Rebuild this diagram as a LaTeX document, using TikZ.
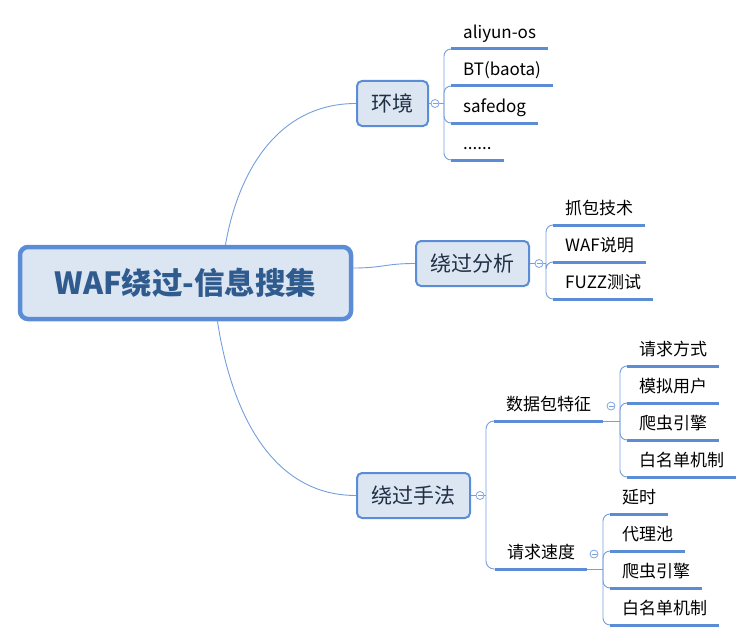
\documentclass[tikz,border=0pt]{standalone}
\usepackage{fontspec}
\setmainfont{Noto Sans CJK SC}
\usetikzlibrary{positioning,calc}

\definecolor{mapline}{HTML}{5B8DD6}
\definecolor{mapfill}{HTML}{DCE6F2}
\definecolor{roottext}{HTML}{2F5B8F}
\definecolor{boxtext}{HTML}{1F2F45}

\pgfdeclarelayer{bg}
\pgfsetlayers{bg,main}

\tikzset{
  root/.style={draw=mapline,fill=mapfill,line width=4.5pt,rounded corners=8pt,
    minimum width=331pt,minimum height=72pt,text=roottext,
    font=\bfseries\fontsize{30.5}{34}\selectfont},
  topic/.style={draw=mapline,fill=mapfill,line width=2pt,rounded corners=5pt,anchor=west,
    minimum height=45pt,inner xsep=14.5pt,text=boxtext,font=\fontsize{21}{24}\selectfont},
  leaf/.style={anchor=south west,inner xsep=12pt,inner ysep=6pt,text height=13pt,text depth=4pt,
    font=\fontsize{17}{20}\selectfont},
  uline/.style={draw=mapline,line width=3pt},
  link/.style={draw=mapline!85,line width=0.9pt},
  fold/.style={circle,draw=mapline!80,fill=white,line width=0.8pt,minimum size=8pt,inner sep=0pt,
    path picture={\draw[mapline!80,line width=0.7pt]
      ([xshift=-2.5pt]path picture bounding box.center) -- ([xshift=2.5pt]path picture bounding box.center);}},
}

\begin{document}
\begin{tikzpicture}[x=1pt,y=-1pt]
\useasboundingbox (0,0) rectangle (753,642);

% central topic and main branches
\node[root] (root) at (185.5,283) {WAF绕过-信息搜集};
\node[topic] (env) at (356,103.5) {环境};
\node[topic] (ana) at (415,263.5) {绕过分析};
\node[topic] (way) at (356,495.5) {绕过手法};

% collapse marks
\node[fold] (fenv) at (435,103.5) {};
\node[fold] (fana) at (539,263.5) {};
\node[fold] (fway) at (480,495.5) {};
\node[fold] (fpkt) at (611,406) {};
\node[fold] (fspd) at (594,554) {};

\coordinate (kenv) at (444,103.5);
\coordinate (kana) at (546,263.5);
\coordinate (kway) at (486,495.5);
\coordinate (kpkt) at (620,421);
\coordinate (kspd) at (603,569);

% leaves
\node[leaf] (e1) at (451,49) {aliyun-os};
\node[leaf] (e2) at (451,86) {BT(baota)};
\node[leaf] (e3) at (451,123) {safedog};
\node[leaf] (e4) at (451,160) {......};

\node[leaf] (a1) at (553,225) {抓包技术};
\node[leaf] (a2) at (553,262) {WAF说明};
\node[leaf] (a3) at (553,299) {FUZZ测试};

\node[leaf] (pkt) at (494,421) {数据包特征};
\node[leaf] (spd) at (495,569) {请求速度};

\node[leaf] (p1) at (627,366) {请求方式};
\node[leaf] (p2) at (627,403) {模拟用户};
\node[leaf] (p3) at (627,440) {爬虫引擎};
\node[leaf] (p4) at (627,477) {白名单机制};

\node[leaf] (s1) at (610,514) {延时};
\node[leaf] (s2) at (610,551) {代理池};
\node[leaf] (s3) at (610,588) {爬虫引擎};
\node[leaf] (s4) at (610,625) {白名单机制};

\begin{pgfonlayer}{bg}
% root to main branches
\draw[link] ([xshift=40pt]root.north) .. controls +(12,-70) and +(-80,0) .. (env.west);
\draw[link] ([yshift=15pt]root.east) .. controls +(30,0) and +(-30,0) .. (ana.west);
\draw[link] ([xshift=32pt]root.south) .. controls +(12,80) and +(-90,0) .. (way.west);

\draw[link] (env.east) -- (kenv);
\draw[link] (ana.east) -- (kana);
\draw[link] (way.east) -- (kway);
\draw[link] (pkt.south east) -- (kpkt);
\draw[link] (spd.south east) -- (kspd);

\foreach \n in {e1,e2,e3,e4}
  \draw[link,rounded corners=7pt] (kenv) |- (\n.south west);
\foreach \n in {a1,a2,a3}
  \draw[link,rounded corners=7pt] (kana) |- (\n.south west);
\foreach \n in {pkt,spd}
  \draw[link,rounded corners=8pt] (kway) |- (\n.south west);
\foreach \n in {p1,p2,p3,p4}
  \draw[link,rounded corners=7pt] (kpkt) |- (\n.south west);
\foreach \n in {s1,s2,s3,s4}
  \draw[link,rounded corners=7pt] (kspd) |- (\n.south west);
\end{pgfonlayer}

\foreach \n in {e1,e2,e3,e4,a1,a2,a3,pkt,spd,p1,p2,p3,p4,s1,s2,s3,s4}
  \draw[uline] (\n.south west) -- (\n.south east);
\end{tikzpicture}
\end{document}
